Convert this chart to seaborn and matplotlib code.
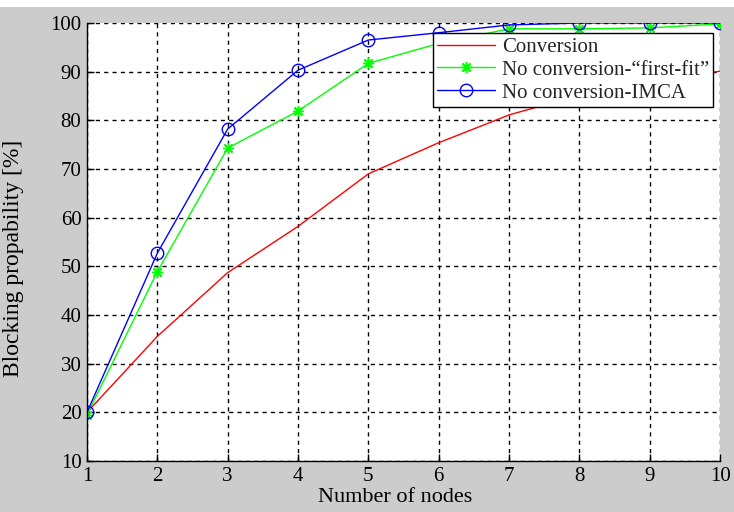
import pandas as pd
import matplotlib
matplotlib.use("Agg")
import matplotlib.pyplot as plt
import seaborn as sns

# Data
nodes = [1, 2, 3, 4, 5, 6, 7, 8, 9, 10]
conversion = [20.0, 35.6, 48.7, 58.2, 69.0, 75.4, 81.1, 85.2, 88.0, 90.1]
first_fit = [19.5, 48.9, 74.3, 81.9, 91.7, 95.8, 98.8, 98.8, 99.0, 99.8]
imca = [20.0, 52.7, 78.2, 90.3, 96.5, 98.0, 99.6, 100.0, 100.0, 100.0]

labels = ["Conversion", "No conversion-\u201cfirst-fit\u201d", "No conversion-IMCA"]
ticks_y = [10, 20, 30, 40, 50, 60, 70, 80, 90, 100]

sns.set_theme(style="white")
plt.rcParams["font.family"] = ["Liberation Serif", "DejaVu Serif"]

fig = plt.figure(figsize=(7.34, 5.12), dpi=100, facecolor="#cccccc")
# thin white strip at the very top of the picture
fig.patches.append(plt.Rectangle((0, 0.986), 1, 0.014, transform=fig.transFigure,
                                 facecolor="white", edgecolor="none", zorder=0))
ax = fig.add_axes([0.1185, 0.0996, 0.8625, 0.8555])
ax.set_facecolor("white")

sns.lineplot(x=nodes, y=conversion, color="red", linewidth=1, label=labels[0], ax=ax)
sns.lineplot(x=nodes, y=first_fit, color="#00ff00", linewidth=1, marker=(8, 2, 0),
             markersize=8, markeredgecolor="#00ff00", markeredgewidth=1,
             label=labels[1], ax=ax)
sns.lineplot(x=nodes, y=imca, color="blue", linewidth=1, marker="o", markersize=9,
             markerfacecolor="none", markeredgecolor="blue", markeredgewidth=1,
             label=labels[2], ax=ax)

ax.set_xlim(1, 10)
ax.set_ylim(10, 100)
ax.set_xticks(nodes)
ax.set_yticks(ticks_y)
ax.tick_params(axis="both", direction="in", length=5, width=1, colors="black",
               labelsize=15, bottom=True, left=True, pad=4)
ax.grid(True, color="black", linestyle=(0, (3, 3)), linewidth=1)
for s in ["top", "right"]:
    ax.spines[s].set_visible(False)
for s in ["left", "bottom"]:
    ax.spines[s].set_color("black")
    ax.spines[s].set_linewidth(1)

ax.set_xlabel("Number of nodes", fontsize=16, color="black", labelpad=0)
ax.set_ylabel("Blocking propability [%]", fontsize=17, color="black")
ax.yaxis.set_label_coords(-0.1, 0.463)
ax.xaxis.set_label_coords(0.487, -0.062)

leg = ax.legend(loc="upper right", bbox_to_anchor=(0.989, 0.977), fontsize=15,
                frameon=True, fancybox=False, framealpha=1, edgecolor="black",
                borderaxespad=0, handlelength=2.8, labelspacing=0.16,
                borderpad=0.2, handletextpad=0.3)
leg.get_frame().set_linewidth(1)
leg.set_zorder(5)

fig.savefig("out.png", dpi=100, facecolor=fig.get_facecolor())
